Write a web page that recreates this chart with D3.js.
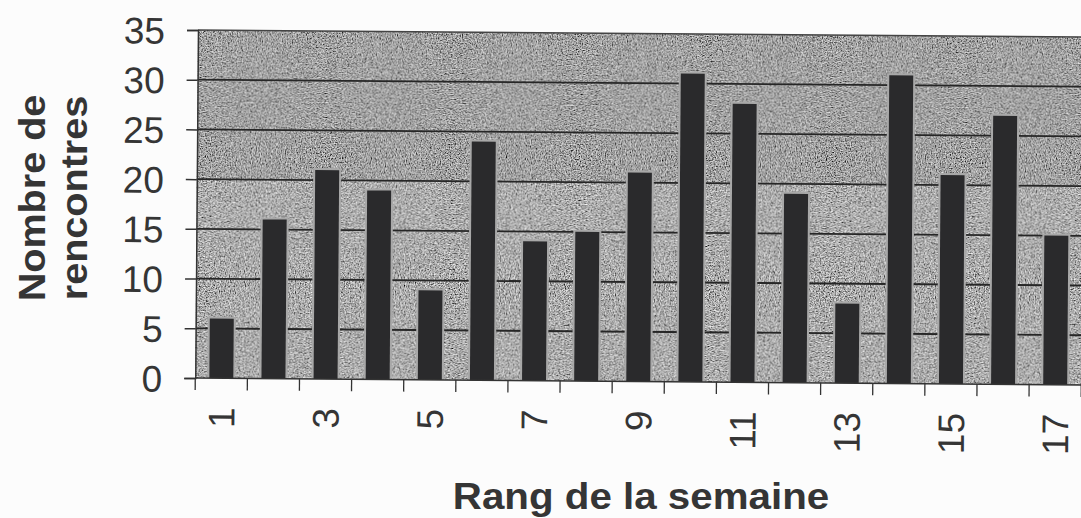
<!DOCTYPE html>
<html><head><meta charset="utf-8">
<script src="https://cdn.jsdelivr.net/npm/d3@7/dist/d3.min.js"></script>
<style>html,body{margin:0;padding:0;background:#fcfcfc;}svg{display:block}</style>
</head><body>
<svg id="chart" width="1081" height="518"></svg>
<script>
const categories = [1,2,3,4,5,6,7,8,9,10,11,12,13,14,15,16,17];
const values = [6,16,21,19,9,24,14,15,21,31,28,19,8,31,21,27,15];
const yTicks = [0,5,10,15,20,25,30,35];
const xTickLabels = [1,3,5,7,9,11,13,15,17];
const yTitle = ["Nombre de","rencontres"];
const xTitle = "Rang de la semaine";

const svg = d3.select("#chart");
const m = {left:198, top:30, right:1084, bottom:378};
const FONT = "Liberation Sans, Arial, sans-serif";
const TXT = "#353535";

const defs = svg.append("defs");
const f = defs.append("filter").attr("id","noise").attr("x",0).attr("y",0).attr("width","100%").attr("height","100%");
f.append("feTurbulence").attr("type","fractalNoise").attr("baseFrequency",0.8).attr("numOctaves",2).attr("seed",5).attr("result","t");
f.append("feColorMatrix").attr("in","t").attr("type","matrix")
  .attr("values","1.7 0 0 0 -0.44  1.7 0 0 0 -0.44  1.7 0 0 0 -0.44  0 0 0 0 1").attr("result","n");
f.append("feComposite").attr("in","n").attr("in2","SourceGraphic").attr("operator","in");

const g = svg.append("g").attr("transform","rotate(0.45 198 30)");

const x = d3.scaleBand().domain(categories).range([m.left, m.right]).paddingInner(0.54).paddingOuter(0.27);
const y = d3.scaleLinear().domain([0,35]).range([m.bottom, m.top]);

// plot background (textured gray)
g.append("rect").attr("x",m.left).attr("y",m.top).attr("width",m.right-m.left).attr("height",m.bottom-m.top)
  .attr("fill","#8e8e8e").attr("filter","url(#noise)");
// slightly darker upper part as in the scan
g.append("rect").attr("x",m.left).attr("y",m.top).attr("width",m.right-m.left).attr("height",y(20)-m.top)
  .attr("fill","#000").attr("opacity",0.06);
g.append("line").attr("x1",m.left).attr("x2",m.right).attr("y1",m.top).attr("y2",m.top)
  .attr("stroke","#444").attr("stroke-width",1.5);

// gridlines
g.append("g").selectAll("line").data(yTicks.filter(d=>d>0 && d<35)).join("line")
  .attr("x1",m.left).attr("x2",m.right).attr("y1",d=>y(d)).attr("y2",d=>y(d))
  .attr("stroke","#262626").attr("stroke-width",1.8);

// bars with light halo
g.append("g").selectAll("rect").data(values).join("rect")
  .attr("x",(d,i)=>x(categories[i])-2).attr("y",d=>y(d)-2)
  .attr("width",x.bandwidth()+4).attr("height",d=>y(0)-y(d)+2)
  .attr("fill","#a8a8a8");
g.append("g").selectAll("rect").data(values).join("rect")
  .attr("x",(d,i)=>x(categories[i])).attr("y",d=>y(d))
  .attr("width",x.bandwidth()).attr("height",d=>y(0)-y(d))
  .attr("fill","#2a2a2c");

// y axis
const ya = g.append("g").attr("transform",`translate(${m.left},0)`)
  .call(d3.axisLeft(y).tickValues(yTicks).tickSize(11).tickPadding(22));
ya.select(".domain").attr("stroke","#333").attr("stroke-width",1.5);
ya.selectAll(".tick line").attr("stroke","#333").attr("stroke-width",1.5);
ya.selectAll("text").attr("font-family",FONT).attr("font-size",37).attr("fill",TXT).attr("dy","0.36em");

// x axis
const xa = g.append("g").attr("transform",`translate(0,${m.bottom})`);
xa.append("line").attr("x1",m.left).attr("x2",m.right).attr("stroke","#333").attr("stroke-width",1.5);
xa.selectAll(".tk").data(d3.range(categories.length+1)).join("line").attr("class","tk")
  .attr("x1",i=>m.left+i*x.step()).attr("x2",i=>m.left+i*x.step())
  .attr("y1",0).attr("y2",12).attr("stroke","#333").attr("stroke-width",1.3);
xa.selectAll("text").data(xTickLabels).join("text")
  .attr("transform",d=>`translate(${x(d)+x.bandwidth()/2},${29}) rotate(-90)`)
  .attr("text-anchor","end").attr("dy","0.36em")
  .attr("font-family",FONT).attr("font-size",37).attr("fill",TXT)
  .text(d=>d);

// titles
svg.append("text").attr("transform","translate(641,509) scale(1.09,1)").attr("text-anchor","middle")
  .attr("font-family",FONT).attr("font-weight","bold").attr("font-size",37).attr("fill",TXT)
  .text(xTitle);
svg.append("g").selectAll("text").data(yTitle).join("text")
  .attr("transform",(d,i)=>`translate(${45+i*42},198) rotate(-90) scale(1.07,1)`).attr("text-anchor","middle")
  .attr("font-family",FONT).attr("font-weight","bold").attr("font-size",37).attr("fill",TXT)
  .text(d=>d);
</script>
</body></html>
